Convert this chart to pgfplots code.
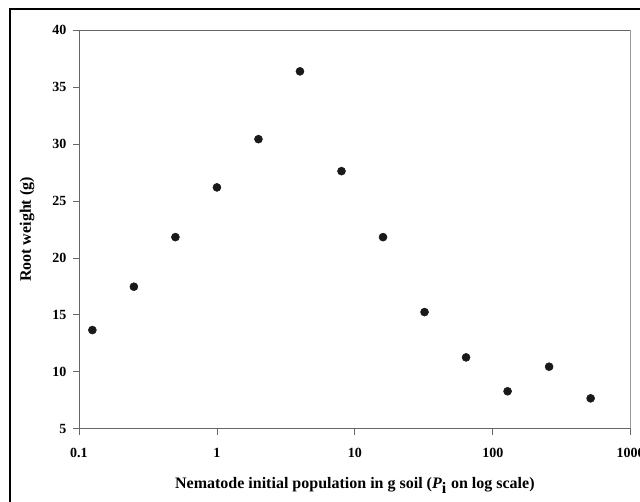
\documentclass[border=0pt]{standalone}
\usepackage{fontspec}
\setmainfont{Liberation Serif}
\usepackage{pgfplots}
\pgfplotsset{compat=1.18}

\begin{document}
\begin{tikzpicture}[x=1pt,y=1pt]
% page is 640 x 502 px at 0.75pt per px
\useasboundingbox (0,0) rectangle (480,376.5);
\draw[line width=1.6pt] (7.5,-20) -- (7.5,369.5) -- (500,369.5);
\begin{axis}[
    at={(59.25pt,55.05pt)}, anchor=south west,
    scale only axis,
    width=413.8pt, height=298.65pt,
    xmode=log,
    xmin=0.1, xmax=1000,
    ymin=5, ymax=40,
    xtick={0.1,1,10,100,1000},
    xticklabels={0.1,1,10,100,1000},
    ytick={5,10,15,20,25,30,35,40},
    xminorticks=false,
    tick align=outside,
    major tick length=4.5pt,
    axis x line*=bottom, axis y line*=left,
    axis line style={black!60, line width=0.6pt},
    tick style={black!60, line width=0.6pt},
    /pgf/number format/assume math mode=true,
    ticklabel style={font=\bfseries\fontsize{10.5}{12}\selectfont},
    xticklabel style={yshift=-6.5pt},
    yticklabel style={xshift=-1.5pt},
    xlabel={Nematode initial population in g soil (\textit{P}$_{\textbf{i}}$ on log scale)},
    ylabel={Root weight (g)},
    label style={font=\bfseries\fontsize{12}{14}\selectfont},
    xlabel style={at={([yshift=-42.5pt]axis description cs:0.5,0)}, anchor=center},
    ylabel style={at={([xshift=-39pt]axis description cs:0,0.5)}, anchor=center, rotate=0},
]
\draw[black!60, line width=0.6pt] (rel axis cs:1,0) -- (rel axis cs:1,1) -- (rel axis cs:0,1);
\addplot[only marks, mark=*, mark size=3pt, black!90, mark options={fill=black!90}]
    coordinates {
    (0.125,13.66)(0.25,17.47)(0.5,21.83)(1,26.2)(2,30.44)(4,36.4)(8,27.63)
    (16,21.83)(32,15.24)(64,11.26)(128,8.28)(256,10.44)(512,7.66)
    };
\end{axis}
\end{tikzpicture}
\end{document}
